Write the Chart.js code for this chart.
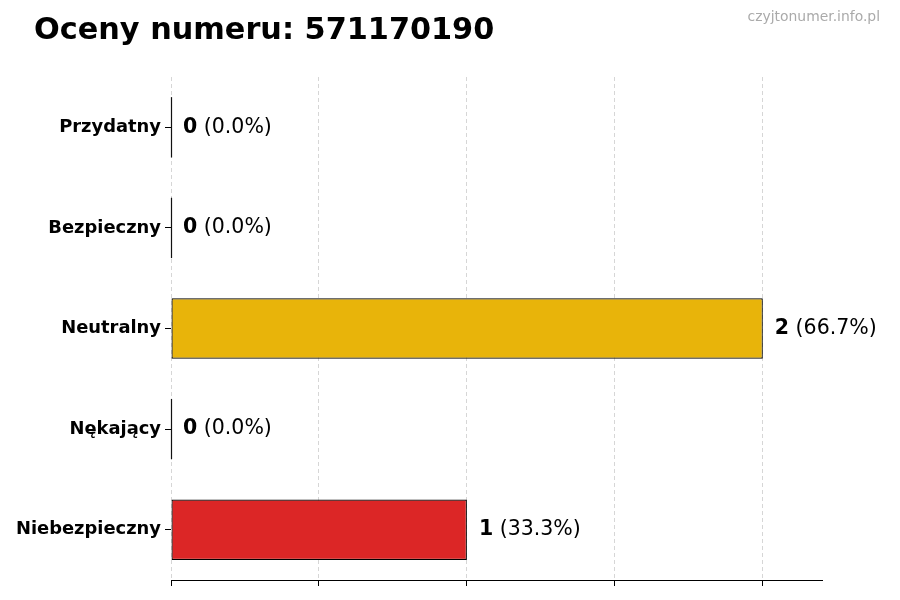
<!DOCTYPE html>
<html>
<head>
<meta charset="utf-8">
<script src="https://cdn.jsdelivr.net/npm/chart.js@4"></script>
<style>
  html, body { margin: 0; padding: 0; background: #fff; }
  #wrap { width: 900px; height: 600px; }
</style>
</head>
<body>
<div id="wrap"><canvas id="ratingsChart" width="900" height="600"></canvas></div>
<script>
// Ratings data
const categories = ['Przydatny', 'Bezpieczny', 'Neutralny', 'Nękający', 'Niebezpieczny'];
const counts = [0, 0, 2, 0, 1];
const percents = ['0.0%', '0.0%', '66.7%', '0.0%', '33.3%'];
const barColors = ['#2DA44E', '#2F6FD6', '#E8B40A', '#F08C1E', '#DC2626'];
const xTicks = [0, 0.5, 1, 1.5, 2];

const FONT = "'DejaVu Sans', Verdana, sans-serif";

// title + watermark + value labels (and the thin edge of zero bars)
const decorPlugin = {
    id: 'decor',
    afterDatasetsDraw(chart) {
        const c = chart.ctx;
        const meta = chart.getDatasetMeta(0);
        c.save();
        meta.data.forEach((bar, i) => {
            const h = bar.height;
            if (counts[i] === 0) {
                c.strokeStyle = '#111';
                c.lineWidth = 1.2;
                c.beginPath();
                c.moveTo(bar.x + 0.5, bar.y - h / 2);
                c.lineTo(bar.x + 0.5, bar.y + h / 2);
                c.stroke();
            }
            let x = bar.x + 12;
            c.fillStyle = '#000';
            c.textBaseline = 'middle';
            c.textAlign = 'left';
            c.font = 'bold 20.5px ' + FONT;
            const n = String(counts[i]);
            c.fillText(n, x, bar.y);
            x += c.measureText(n).width;
            c.font = '20.5px ' + FONT;
            c.fillText(' (' + percents[i] + ')', x, bar.y);
        });
        c.restore();
    },
    afterDraw(chart) {
        const c = chart.ctx;
        c.save();
        c.textBaseline = 'middle';
        c.fillStyle = '#000';
        c.textAlign = 'left';
        c.font = 'bold 30.3px ' + FONT;
        c.fillText('Oceny numeru: 571170190', 34, 31);
        c.fillStyle = '#aaaaaa';
        c.textAlign = 'right';
        c.font = '13.9px ' + FONT;
        c.fillText('czyjtonumer.info.pl', 880, 17);
        c.restore();
    }
};

const ctx = document.getElementById('ratingsChart').getContext('2d');
new Chart(ctx, {
    type: 'bar',
    data: {
        labels: categories,
        datasets: [{
            data: counts,
            backgroundColor: barColors,
            borderColor: '#000',
            borderWidth: 1.2,
            borderSkipped: false,
            categoryPercentage: 1,
            barPercentage: 0.6
        }]
    },
    options: {
        indexAxis: 'y',
        responsive: false,
        animation: false,
        events: [],
        layout: {
            padding: { top: 77, left: 0, right: 78, bottom: 0 }
        },
        plugins: {
            legend: { display: false },
            tooltip: { enabled: false }
        },
        scales: {
            x: {
                min: 0,
                max: 2.2,
                z: 1, // grid on top of the bars
                afterBuildTicks: (scale) => {
                    scale.ticks = xTicks.map(v => ({ value: v }));
                },
                afterFit: (scale) => { scale.height = 20; },
                ticks: { display: false },
                grid: {
                    color: 'rgba(200,200,200,0.75)',
                    lineWidth: 1,
                    drawTicks: true,
                    tickLength: 6,
                    tickColor: '#000',
                    tickWidth: 1,
                    tickBorderDash: []
                },
                border: { display: true, color: '#000', width: 1, dash: [4, 3] }
            },
            y: {
                afterFit: (scale) => { scale.width = 171; },
                ticks: {
                    color: '#000',
                    padding: 4,
                    font: { family: FONT, size: 17.9, weight: 'bold' }
                },
                grid: {
                    offset: false,
                    drawOnChartArea: false,
                    drawTicks: true,
                    tickLength: 6,
                    tickColor: '#000'
                },
                border: { display: false }
            }
        }
    },
    plugins: [decorPlugin]
});
</script>
</body>
</html>
